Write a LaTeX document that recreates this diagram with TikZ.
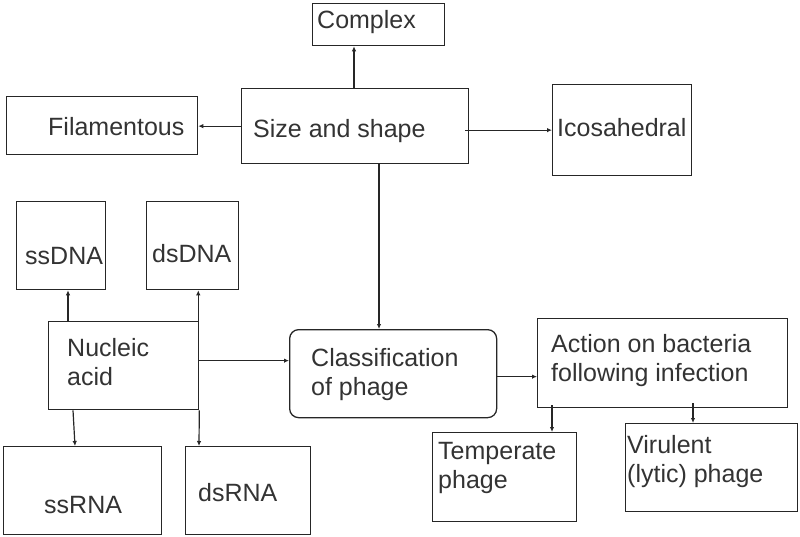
\documentclass[tikz,border=0pt]{standalone}
\usepackage{fontspec}
\setmainfont{Liberation Sans}
\usetikzlibrary{arrows.meta}

\begin{document}
\begin{tikzpicture}[x=1pt,y=-1pt,
  box/.style={draw=black!85, line width=1.3pt, anchor=north west, inner sep=0pt},
  txt/.style={anchor=base west, inner sep=0pt, text=black!80, font=\fontsize{25}{28.5}\selectfont, align=left},
  arr/.style={draw=black!85, line width=1.2pt, -{Latex[length=5pt,width=4.5pt]}}]
\useasboundingbox (0,0) rectangle (800,537);
% boxes
\node[box, minimum width=132pt, minimum height=42pt] (Cx) at (312,3) {};
\node[box, minimum width=227pt, minimum height=75pt] (SS) at (241,88) {};
\node[box, minimum width=191pt, minimum height=58pt] (Fil) at (6,96) {};
\node[box, minimum width=139pt, minimum height=91pt] (Ico) at (552,84) {};
\node[box, minimum width=89pt, minimum height=88pt] (ssD) at (16,201) {};
\node[box, minimum width=92pt, minimum height=88pt] (dsD) at (146,201) {};
\node[box, minimum width=150pt, minimum height=88pt] (NA) at (48,321) {};
\node[box, rounded corners=9pt, minimum width=207pt, minimum height=88pt] (CP) at (289,329) {};
\node[box, minimum width=250pt, minimum height=89pt] (Act) at (537,318) {};
\node[box, minimum width=144pt, minimum height=89pt] (Tmp) at (432,432) {};
\node[box, minimum width=172pt, minimum height=88pt] (Vir) at (625,423) {};
\node[box, minimum width=158pt, minimum height=88pt] (ssR) at (3,446) {};
\node[box, minimum width=125pt, minimum height=88pt] (dsR) at (185,446) {};
% texts
\node[txt] (tCx) at (317,29) {Complex};
\node[txt] (tSS) at (253,138) {Size and shape};
\node[txt] (tFil) at (48,136) {Filamentous};
\node[txt] (tIco) at (557,137) {Icosahedral};
\node[txt] (tssD) at (25,265) {ssDNA};
\node[txt] (tdsD) at (152,262) {dsDNA};
\node[txt] (tNA) at (67,385) {Nucleic\\acid};
\node[txt] (tCP) at (311,395) {Classification\\of phage};
\node[txt] (tAct) at (551,381) {Action on bacteria\\following infection};
\node[txt] (tTmp) at (438,488) {Temperate\\phage};
\node[txt] (tVir) at (627,482) {Virulent\\(lytic) phage};
\node[txt] (tssR) at (44,513) {ssRNA};
\node[txt] (tdsR) at (198,501) {dsRNA};
% connectors
\draw[arr] ([xshift=113pt]SS.north west) -- ([xshift=42pt]Cx.south west);
\draw[arr] (SS.west) -- (SS.west -| Fil.east);
\draw[arr] ([xshift=-4pt]SS.east |- Ico.west) -- (Ico.west);
\draw[arr] ([xshift=138pt]SS.south west) -- ([xshift=138pt]SS.south west |- CP.north);
\draw[arr] ([yshift=5pt]NA.east) -- ([yshift=5pt]NA.east -| CP.west);
\draw[arr] ([xshift=20pt]NA.north west) -- ([xshift=20pt]NA.north west |- ssD.south);
\draw[arr] ([xshift=-1pt]NA.north east) -- ([xshift=-1pt]NA.north east |- dsD.south);
\draw[arr] ([xshift=25pt]NA.south west) -- ([xshift=72pt]ssR.north west);
\draw[arr] (NA.south east) -- ([xshift=14pt]dsR.north west);
\draw[arr] ([yshift=-3pt]CP.east) -- ([yshift=-3pt]CP.east -| Act.west);
\draw[arr] ([xshift=15pt,yshift=3pt]Act.south west) -- ([xshift=15pt]Act.south west |- Tmp.north);
\draw[arr] ([xshift=156pt,yshift=5pt]Act.south west) -- ([xshift=156pt]Act.south west |- Vir.north);
\end{tikzpicture}
\end{document}
